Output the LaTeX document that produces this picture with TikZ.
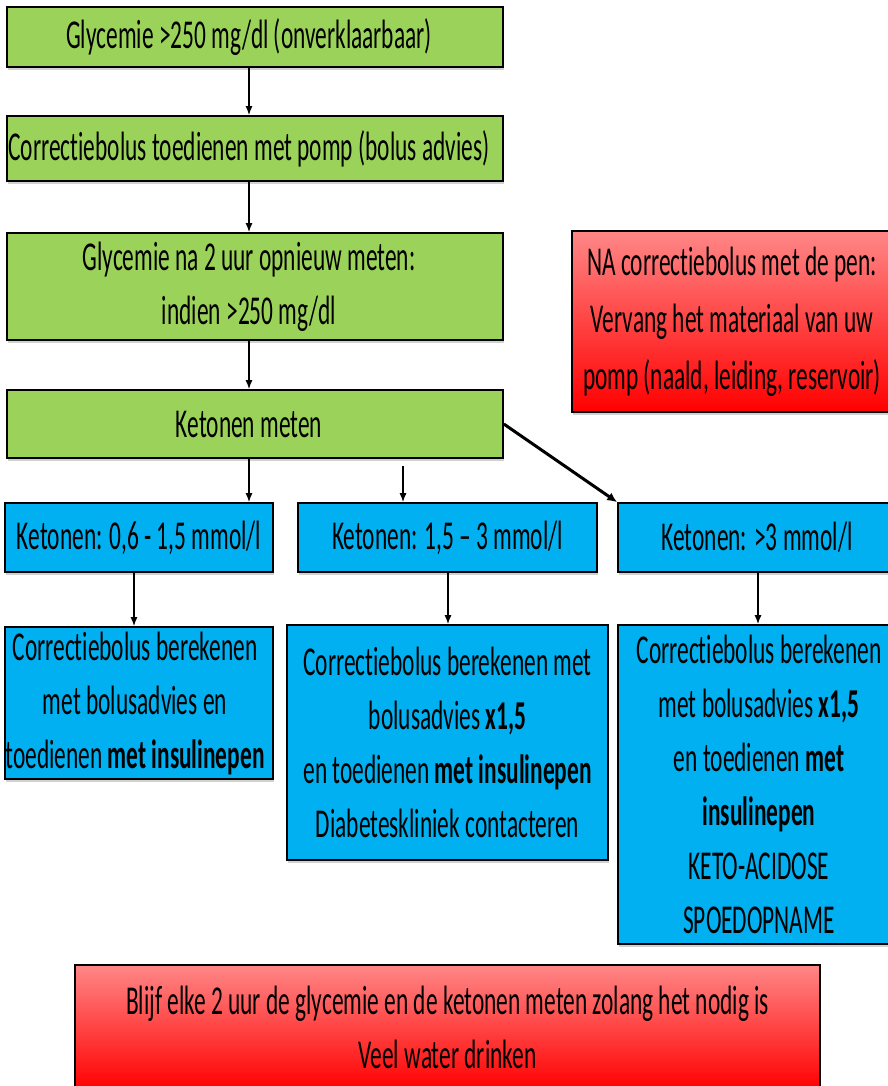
\documentclass[tikz,border=0pt]{standalone}
\usepackage{fontspec}
\setmainfont[FakeStretch=0.57,Ligatures=NoCommon]{Carlito}
\usetikzlibrary{arrows.meta,shadows}
\definecolor{gfill}{RGB}{155,211,90}
\definecolor{bfill}{RGB}{0,176,240}
\definecolor{rtop}{RGB}{255,135,135}
\definecolor{rbot}{RGB}{255,0,0}
\newcommand{\gsh}{\kern12pt}
\newcommand{\ash}{\kern8pt}
\tikzset{
  box/.style={draw=black, line width=1.6pt, align=center, inner sep=0pt,
    drop shadow={shadow xshift=1pt, shadow yshift=-3pt, opacity=0.18, fill=black},
    font=\fontsize{41}{54}\selectfont},
  gbox/.style={box, fill=gfill},
  bbox/.style={box, fill=bfill},
  rbox/.style={box, top color=rtop, bottom color=rbot},
  arr/.style={line width=1.5pt, -{Latex[length=9pt,width=7pt]}},
  thickarr/.style={line width=3pt, -{Latex[length=10pt,width=9pt]}}
}
\begin{document}
\begin{tikzpicture}[x=1pt,y=-1pt]
\useasboundingbox (0,0) rectangle (888,1086);
% green column
\node[gbox, minimum width=496pt, minimum height=60pt] (g1) at (255,37) {Glycemie >250 mg/dl (onverklaarbaar)\gsh};
\node[gbox, minimum width=496pt, minimum height=65pt] (g2) at (255,148.5) {Correctiebolus toedienen met pomp (bolus advies)\gsh};
\node[gbox, minimum width=496pt, minimum height=107pt] (g3) at (255,286.5) {Glycemie na 2 uur opnieuw meten:\gsh\\indien >250 mg/dl\gsh};
\node[gbox, minimum width=496pt, minimum height=68pt] (g4) at (255,424) {Ketonen meten\gsh};
% red note
\node[rbox, minimum width=320pt, minimum height=181pt, font=\fontsize{41}{57}\selectfont] (r1) at (732,321.5) {NA correctiebolus met de pen:\\Vervang het materiaal van uw\\pomp (naald, leiding, reservoir)};
% ketonen row
\node[bbox, minimum width=268pt, minimum height=69pt] (k1) at (139,537.5) {Ketonen: 0,6 - 1,5 mmol/l};
\node[bbox, minimum width=299pt, minimum height=69pt] (k2) at (447.5,537.5) {Ketonen: 1,5 – 3 mmol/l};
\node[bbox, minimum width=278pt, minimum height=69pt] (k3) at (757,537.5) {Ketonen: >3 mmol/l};
% action row
\node[bbox, minimum width=268pt, minimum height=152pt] (a1) at (139,703) {Correctiebolus berekenen\ash\\met bolusadvies en\ash\\toedienen \textbf{met insulinepen}\ash};
\node[bbox, minimum width=321pt, minimum height=235pt] (a2) at (447.5,742.5) {Correctiebolus berekenen met\\bolusadvies \textbf{x1,5}\\en toedienen \textbf{met insulinepen}\\Diabeteskliniek contacteren};
\node[bbox, minimum width=282pt, minimum height=319pt] (a3) at (759,784.5) {Correctiebolus berekenen\\met bolusadvies \textbf{x1,5}\\en toedienen \textbf{met}\\\textbf{insulinepen}\\KETO-ACIDOSE\\SPOEDOPNAME};
% bottom note
\node[rbox, minimum width=745pt, minimum height=125pt] (r2) at (447.5,1027.5) {Blijf elke 2 uur de glycemie en de ketonen meten zolang het nodig is\\Veel water drinken};
% connector x positions
\coordinate (xa) at (249,0);
\coordinate (xb) at (403,0);
\coordinate (xc1) at (134,0);
\coordinate (xc2) at (448,0);
\coordinate (xc3) at (758,0);
\coordinate (kstart) at (403,466);
% connectors
\draw[arr] (g1.south -| xa) -- (g2.north -| xa);
\draw[arr] (g2.south -| xa) -- (g3.north -| xa);
\draw[arr] (g3.south -| xa) -- (g4.north -| xa);
\draw[arr] (g4.south -| xa) -- (k1.north -| xa);
\draw[arr] (kstart) -- (k2.north -| xb);
\draw[thickarr] (g4.east) -- (k3.north west);
\draw[arr] (k1.south -| xc1) -- (a1.north -| xc1);
\draw[arr] (k2.south -| xc2) -- (a2.north -| xc2);
\draw[arr] (k3.south -| xc3) -- (a3.north -| xc3);
\end{tikzpicture}
\end{document}
